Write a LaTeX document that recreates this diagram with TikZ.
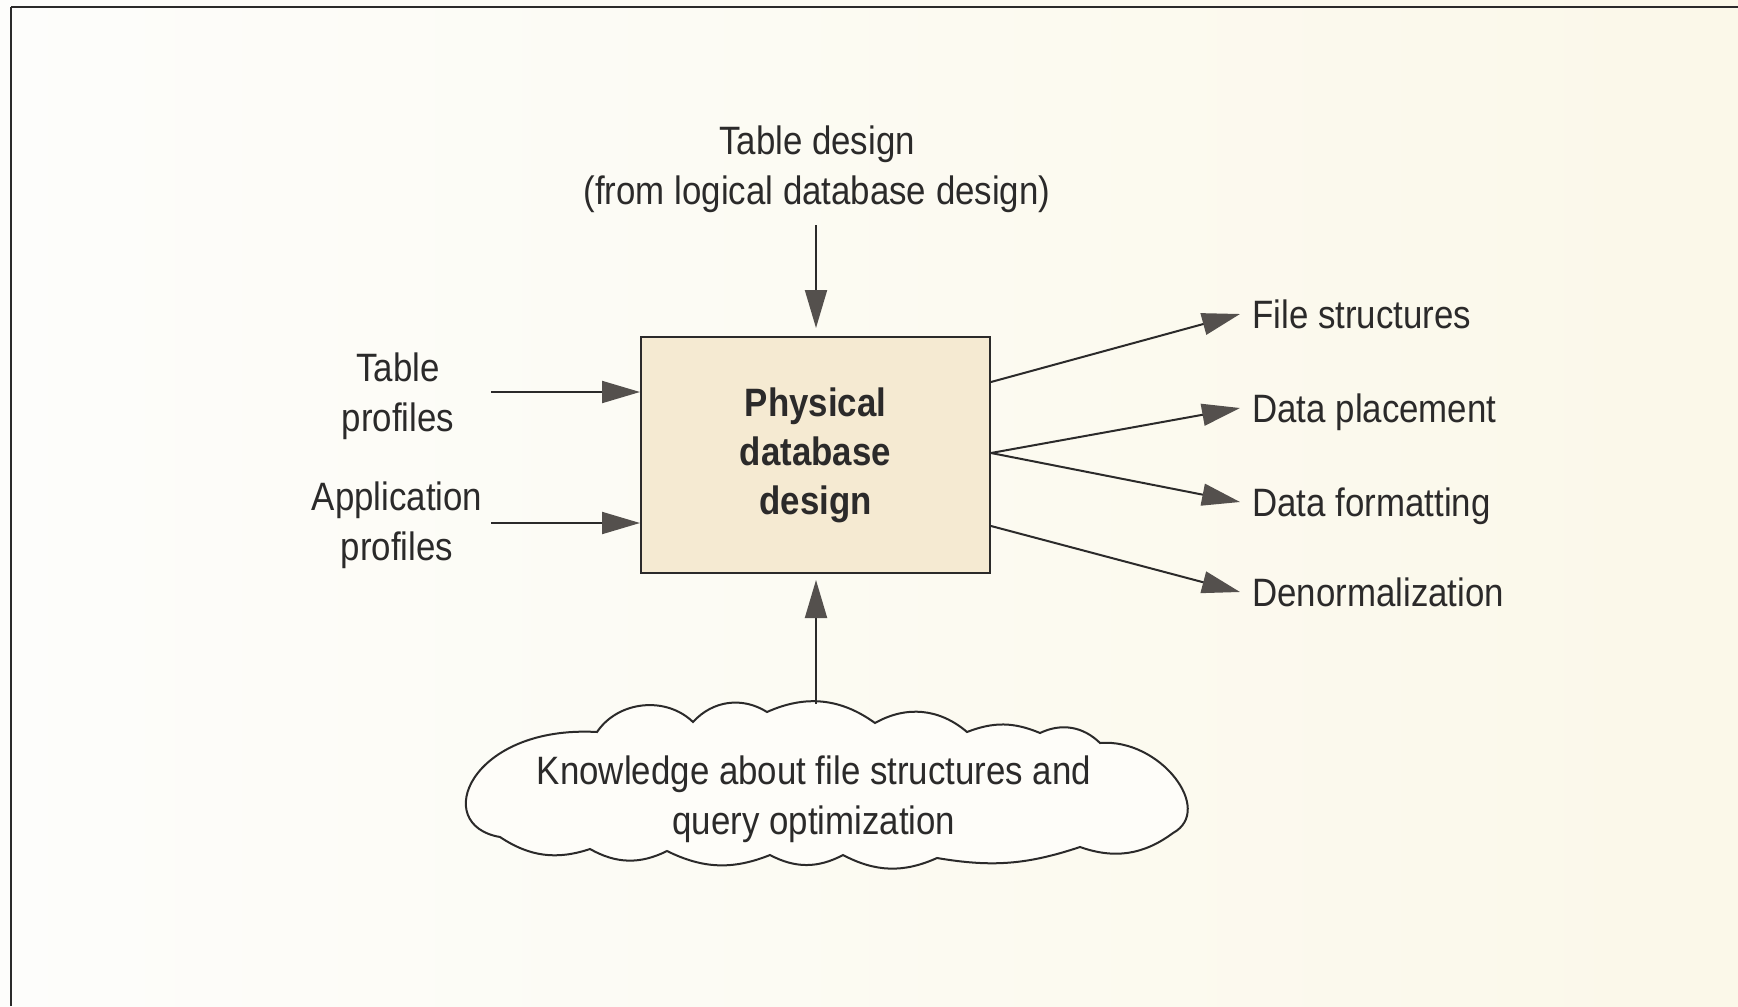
\documentclass[tikz,border=0pt]{standalone}
\usepackage{fontspec}
\setmainfont{Liberation Sans}[FakeStretch=0.88]
\usetikzlibrary{arrows.meta,calc}
\definecolor{bgl}{HTML}{FDFDFB}
\definecolor{bgr}{HTML}{FBF8E9}
\definecolor{boxfill}{HTML}{F5EAD2}
\definecolor{ink}{HTML}{2B2A2A}
\definecolor{headc}{HTML}{54504D}
\definecolor{cloudfill}{HTML}{FEFDF9}
\begin{document}
\begin{tikzpicture}[x=0.5pt,y=-0.5pt,
  lbl/.style={font=\fontsize{19.8}{25}\selectfont, text=ink, align=center, inner sep=0pt},
  rlbl/.style={font=\fontsize{19.8}{25}\selectfont, text=ink, anchor=west, inner ysep=0pt, inner xsep=6pt, text height=14pt, text depth=0pt},
  arr/.style={draw=ink, line width=1pt, -{Triangle[length=19pt,width=11pt,fill=headc,color=headc]}},
  pbox/.style={draw=ink, line width=1pt, fill=boxfill, minimum width=174.5pt, minimum height=118pt, inner sep=0pt, align=center, font=\bfseries\fontsize{19.8}{24.5}\selectfont, text=ink},
  cloudline/.style={draw=ink, line width=1pt, fill=cloudfill}
]
\useasboundingbox (0,0) rectangle (1738,1006);
\shade[left color=bgl, right color=bgr] (0,0) rectangle (1738,1006);
\draw[ink, line width=1.4pt] (11,7) -- (1738,7);
\draw[ink, line width=1pt] (11,1006) -- (11,7);

% central box
\node[pbox] (pdd) at (815.5,455) {Physical\\database\\design};

% top input
\node[lbl] (td) at (817,169) {Table design\\(from logical database design)};
\coordinate (tdtail) at (816,225);
\draw[arr, shorten >=4pt] (tdtail) -- (tdtail |- pdd.north);

% left inputs
\node[lbl] (tp) at (398,396.5) {Table\\profiles};
\node[lbl] (ap) at (397,525.5) {Application\\profiles};
\coordinate (tptail) at (491,392);
\coordinate (aptail) at (491,523);
\draw[arr] (tptail) -- (tptail -| pdd.west);
\draw[arr] (aptail) -- (aptail -| pdd.west);

% right outputs
\node[rlbl] (fs) at (1240,314) {File structures};
\node[rlbl] (dp) at (1240,408) {Data placement};
\node[rlbl] (df) at (1240,502) {Data formatting};
\node[rlbl] (dn) at (1240,592) {Denormalization};
\draw[arr] ($(pdd.east)+(0,-73)$) -- (fs.west);
\draw[arr] ($(pdd.east)+(0,-2)$) -- (dp.west);
\draw[arr] ($(pdd.east)+(0,-2)$) -- (df.west);
\draw[arr] ($(pdd.east)+(0,71)$) -- (dn.west);

% cloud
\draw[cloudline] (597,732) to[bend left=50] (693,722) to[bend left=40] (767,712)
  to[bend left=30] (875,723) to[bend left=35] (967,732) to[bend left=22] (1040,733)
  to[bend left=35] (1100,743) .. controls (1160,738) and (1215,810) .. (1173,833)
  to[bend left=28] (1080,847) to[bend left=14] (937,858) to[bend left=26] (843,855)
  to[bend left=28] (770,855) to[bend left=24] (667,851) to[bend left=28] (590,849)
  to[bend left=26] (500,837) .. controls (430,825) and (470,725) .. (597,732) -- cycle;
\node[lbl] (kn) at (814,799) {Knowledge about file structures and\\query optimization};
\coordinate (cloudtop) at (816,704);
\draw[arr, shorten >=3pt] (cloudtop) -- (cloudtop |- pdd.south);
\end{tikzpicture}
\end{document}
